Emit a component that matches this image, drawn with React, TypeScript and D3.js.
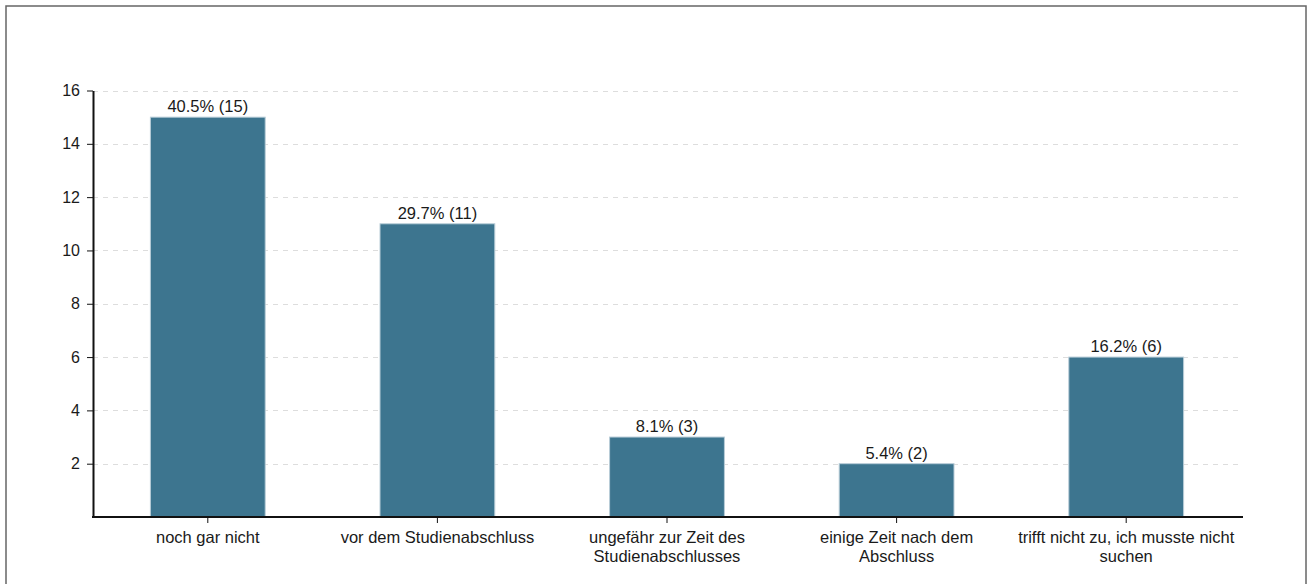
import { useEffect, useRef } from 'react';
import * as d3 from 'd3';

const categories = [
  'noch gar nicht',
  'vor dem Studienabschluss',
  'ungefähr zur Zeit des\nStudienabschlusses',
  'einige Zeit nach dem\nAbschluss',
  'trifft nicht zu, ich musste nicht\nsuchen',
];
const counts = [15, 11, 3, 2, 6];
const percents = ['40.5%', '29.7%', '8.1%', '5.4%', '16.2%'];
const yTicks = [2, 4, 6, 8, 10, 12, 14, 16];

const WIDTH = 1310;
const HEIGHT = 584;
const FONT = 'Liberation Sans, Arial, sans-serif';

export default function App() {
  const svgRef = useRef<SVGSVGElement>(null);

  useEffect(() => {
    if (!svgRef.current) return;
    const svg = d3.select(svgRef.current);
    svg.selectAll('*').remove();

    const left = 93;
    const right = 1241;
    const top = 90.5;
    const bottom = 517;

    // outer frame
    svg
      .append('rect')
      .attr('x', 6)
      .attr('y', 6)
      .attr('width', 1300)
      .attr('height', 600)
      .attr('fill', 'white')
      .attr('stroke', '#666')
      .attr('stroke-width', 1.5);

    const x = d3
      .scaleBand<string>()
      .domain(categories)
      .range([left, right])
      .paddingInner(0.5)
      .paddingOuter(0.25);

    const y = d3.scaleLinear().domain([0, 16]).range([bottom, top]);

    // dashed grid
    svg
      .append('g')
      .selectAll('line')
      .data(yTicks)
      .enter()
      .append('line')
      .attr('x1', left)
      .attr('x2', right - 2)
      .attr('y1', (d) => Math.round(y(d)) + 0.5)
      .attr('y2', (d) => Math.round(y(d)) + 0.5)
      .attr('stroke', '#ddd')
      .attr('stroke-dasharray', '5,5');

    // bars
    svg
      .append('g')
      .selectAll('rect')
      .data(counts)
      .enter()
      .append('rect')
      .attr('x', (_, i) => x(categories[i])!)
      .attr('y', (d) => y(d))
      .attr('width', x.bandwidth())
      .attr('height', (d) => bottom - y(d))
      .attr('fill', '#3d758f')
      .attr('stroke', '#b9cdd8')
      .attr('stroke-width', 1);

    // value labels
    svg
      .append('g')
      .selectAll('text')
      .data(counts)
      .enter()
      .append('text')
      .attr('x', (_, i) => x(categories[i])! + x.bandwidth() / 2)
      .attr('y', (d) => y(d) - 5)
      .attr('text-anchor', 'middle')
      .attr('font-family', FONT)
      .attr('font-size', 16.5)
      .attr('fill', '#1a1a1a')
      .text((d, i) => `${percents[i]} (${d})`);

    // y axis
    const yAxis = svg
      .append('g')
      .attr('transform', `translate(${left},0)`)
      .call(
        d3
          .axisLeft(y)
          .tickValues(yTicks)
          .tickSize(6)
          .tickSizeOuter(0)
          .tickPadding(7),
      );
    yAxis.select('.domain').attr('stroke', '#111').attr('stroke-width', 2);
    yAxis.selectAll('.tick line').attr('stroke', '#111');
    yAxis
      .selectAll('.tick text')
      .attr('font-family', FONT)
      .attr('font-size', 16)
      .attr('fill', '#1a1a1a');

    // x axis
    const xAxis = svg
      .append('g')
      .attr('transform', `translate(0,${bottom})`)
      .call(d3.axisBottom(x).tickSize(6).tickSizeOuter(0).tickFormat(() => ''));
    xAxis
      .select('.domain')
      .attr('d', `M${left - 1},0H${right + 2}`)
      .attr('stroke', '#111')
      .attr('stroke-width', 2);
    xAxis.selectAll('.tick line').attr('stroke', '#111');

    const labels = svg.append('g');
    categories.forEach((c) => {
      const t = labels
        .append('text')
        .attr('x', x(c)! + x.bandwidth() / 2)
        .attr('y', 543)
        .attr('text-anchor', 'middle')
        .attr('font-family', FONT)
        .attr('font-size', 16.5)
        .attr('fill', '#1a1a1a');
      c.split('\n').forEach((line, k) => {
        t.append('tspan')
          .attr('x', x(c)! + x.bandwidth() / 2)
          .attr('dy', k === 0 ? 0 : 19)
          .text(line);
      });
    });
  }, []);

  return (
    <div style={{ position: 'absolute', left: 0, top: 0 }}>
      <svg ref={svgRef} width={WIDTH} height={HEIGHT} style={{ display: 'block' }} />
    </div>
  );
}
